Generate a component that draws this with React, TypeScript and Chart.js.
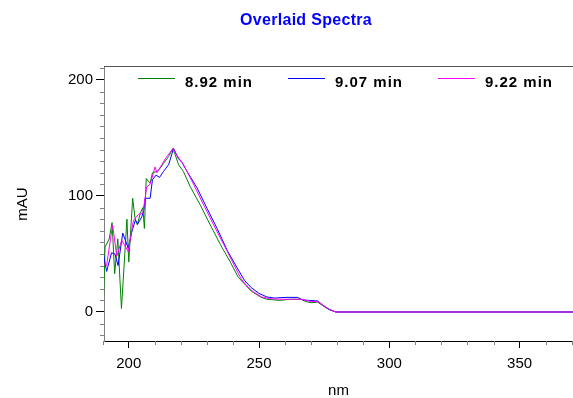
import React, { useEffect, useRef } from "react";
import { Chart, registerables } from "chart.js";

Chart.register(...registerables);

const chartTitle = "Overlaid Spectra";
const xTitle = "nm";
const yTitle = "mAU";
const seriesLabels = ["8.92 min", "9.07 min", "9.22 min"];
const seriesColors = ["#008000", "#0000ff", "#ff00ff"];

const greenNm = [190.2, 190.9, 192.5, 193.6, 194.6, 195.8, 197.2, 199.3, 200.0, 201.5, 202.4, 203.3, 204.4, 205.4, 206.0, 206.7, 208.2, 209.1, 210.8, 212.1, 213.3, 215.3, 217.0, 219.1, 221.0, 223.6, 227.5, 231.3, 235.2, 239.0, 242.0, 244.5, 247.0, 250.5, 253.0, 258.0, 262.0, 266.0, 268.0, 270.0, 272.5, 274.4, 276.9, 279.5, 372];
const greenAu = [2, 56, 63, 77, 33, 63, 3, 80, 43, 98, 81, 75, 85, 90, 72, 115, 111, 120, 121, 124, 128, 134, 141, 127, 121, 108, 92, 75, 58, 43, 30, 24, 18, 13, 11, 10, 11, 11, 9, 8, 8.5, 5.5, 2, 0, 0];

const blueNm = [190.2, 191.5, 193.4, 194.7, 195.9, 197.7, 199.8, 201.3, 202.5, 203.5, 205.0, 205.8, 206.3, 208.2, 209.1, 210.5, 211.8, 213.3, 215.3, 217.2, 219.1, 220.4, 222.4, 226.2, 230.1, 233.9, 237.8, 241.6, 244.5, 247.0, 250.0, 253.0, 256.0, 260.3, 264.8, 266.7, 269.0, 272.5, 274.4, 276.9, 279.5, 372];
const blueAu = [51, 35, 51, 50, 40, 68, 55, 70, 79, 76, 82, 88, 98, 98, 114, 118, 116, 121, 127, 141, 132, 129, 121, 107, 89, 72, 53, 38, 27, 21, 16, 13, 12, 12.6, 12.6, 10.5, 10, 9.5, 6, 2.3, 0, 0];

const magentaNm = [190.2, 191.5, 193.8, 195.4, 197.3, 199.8, 201.8, 203.7, 205.4, 206.9, 208.2, 210.1, 210.8, 212.7, 214.0, 217.0, 218.5, 221.0, 224.9, 228.8, 232.6, 236.5, 240.3, 243.0, 245.5, 248.0, 251.0, 254.0, 258.0, 262.0, 266.0, 268.0, 270.0, 272.5, 274.4, 276.9, 279.5, 372];
const magentaAu = [42, 40, 75, 48, 62, 52, 79, 84, 85, 108, 110, 125, 120, 127, 132, 141, 135, 127, 110, 92, 75, 58, 41, 29, 22, 17, 13, 11.5, 11, 11, 11, 10, 9, 9, 6, 2.3, 0, 0];

const xMajorTicks = [200, 250, 300, 350];
const xMinorTicks = [190, 210, 220, 230, 240, 260, 270, 280, 290, 310, 320, 330, 340, 360, 370];
const yMajorTicks = [0, 100, 200];
const yMinorTicks = [-20, -10, 10, 20, 30, 40, 50, 60, 70, 80, 90, 110, 120, 130, 140, 150, 160, 170, 180, 190, 210];

const FONT = '"Liberation Sans", Arial, sans-serif';

const toPoints = (xs: number[], ys: number[]) => xs.map((x, i) => ({ x, y: ys[i] }));

const decorPlugin = {
  id: "decor",
  afterDraw(chart: any) {
    const { ctx, chartArea: a, scales } = chart;
    const x = scales.x;
    const y = scales.y;
    ctx.save();
    // top border
    ctx.strokeStyle = "#555555";
    ctx.lineWidth = 1;
    ctx.beginPath();
    ctx.moveTo(a.left, a.top + 0.5);
    ctx.lineTo(a.right, a.top + 0.5);
    ctx.stroke();
    // minor ticks
    ctx.strokeStyle = "#808080";
    ctx.beginPath();
    for (const v of xMinorTicks) {
      const px = Math.round(x.getPixelForValue(v)) + 0.5;
      if (px < a.left - 1 || px > a.right + 1) continue;
      ctx.moveTo(px, a.bottom);
      ctx.lineTo(px, a.bottom + 4);
    }
    for (const v of yMinorTicks) {
      const py = Math.round(y.getPixelForValue(v)) + 0.5;
      if (py < a.top || py > a.bottom) continue;
      ctx.moveTo(a.left - 4, py);
      ctx.lineTo(a.left, py);
    }
    ctx.stroke();

    // title
    ctx.fillStyle = "#0000ff";
    ctx.font = `bold 16px ${FONT}`;
    (ctx as any).letterSpacing = "0.3px";
    ctx.textAlign = "center";
    ctx.textBaseline = "alphabetic";
    ctx.fillText(chartTitle, 306, 25);

    // legend
    (ctx as any).letterSpacing = "1px";
    ctx.font = `bold 15px ${FONT}`;
    ctx.textAlign = "left";
    for (let i = 0; i < seriesLabels.length; i++) {
      const lx = a.left + 34 + i * 150;
      ctx.strokeStyle = seriesColors[i];
      ctx.beginPath();
      ctx.moveTo(lx, a.top + 12.5);
      ctx.lineTo(lx + 37, a.top + 12.5);
      ctx.stroke();
      ctx.fillStyle = "#000000";
      ctx.fillText(seriesLabels[i], lx + 47, a.top + 20.5);
    }

    // axis titles
    (ctx as any).letterSpacing = "0px";
    ctx.font = `15px ${FONT}`;
    ctx.fillStyle = "#000000";
    ctx.textAlign = "center";
    ctx.fillText(xTitle, (a.left + a.right) / 2, 395);
    ctx.translate(27, 204);
    ctx.rotate(-Math.PI / 2);
    ctx.textBaseline = "alphabetic";
    ctx.fillText(yTitle, 0, 0);
    ctx.restore();
  },
};

export default function App() {
  const ref = useRef<HTMLCanvasElement | null>(null);
  useEffect(() => {
    if (!ref.current) return;
    const chart = new Chart(ref.current, {
      type: "line",
      data: {
        datasets: [
          { label: seriesLabels[0], data: toPoints(greenNm, greenAu), borderColor: seriesColors[0], order: 3 },
          { label: seriesLabels[1], data: toPoints(blueNm, blueAu), borderColor: seriesColors[1], order: 2 },
          { label: seriesLabels[2], data: toPoints(magentaNm, magentaAu), borderColor: seriesColors[2], order: 1 },
        ].map((d) => ({ ...d, borderWidth: 1, pointRadius: 0, tension: 0, fill: false })),
      },
      options: {
        animation: false,
        responsive: false,
        devicePixelRatio: 1,
        layout: { padding: { top: 66, left: 0, right: 0, bottom: 0 } },
        plugins: { legend: { display: false }, title: { display: false }, tooltip: { enabled: false } },
        scales: {
          x: {
            type: "linear",
            min: 190.5,
            max: 370.5,
            afterFit: (s: any) => { s.height = 57; },
            afterBuildTicks: (s: any) => { s.ticks = xMajorTicks.map((v) => ({ value: v })); },
            grid: { drawOnChartArea: false, drawTicks: true, tickLength: 7, color: "#000000" },
            border: { display: true, color: "#000000", width: 1 },
            ticks: { color: "#000000", font: { family: FONT, size: 15 }, padding: 7, maxRotation: 0, autoSkip: false },
          },
          y: {
            type: "linear",
            min: -25,
            max: 212,
            afterFit: (s: any) => { s.width = 104; },
            afterBuildTicks: (s: any) => { s.ticks = yMajorTicks.map((v) => ({ value: v })); },
            grid: { drawOnChartArea: false, drawTicks: true, tickLength: 8, color: "#000000" },
            border: { display: true, color: "#808080", width: 1 },
            ticks: { color: "#000000", font: { family: FONT, size: 15 }, padding: 3, autoSkip: false },
          },
        },
      },
      plugins: [decorPlugin],
    });
    return () => chart.destroy();
  }, []);
  return (
    <canvas
      ref={ref}
      width={573}
      height={398}
      style={{ position: "fixed", left: 0, top: 0, width: 573, height: 398, background: "#ffffff" }}
    />
  );
}
